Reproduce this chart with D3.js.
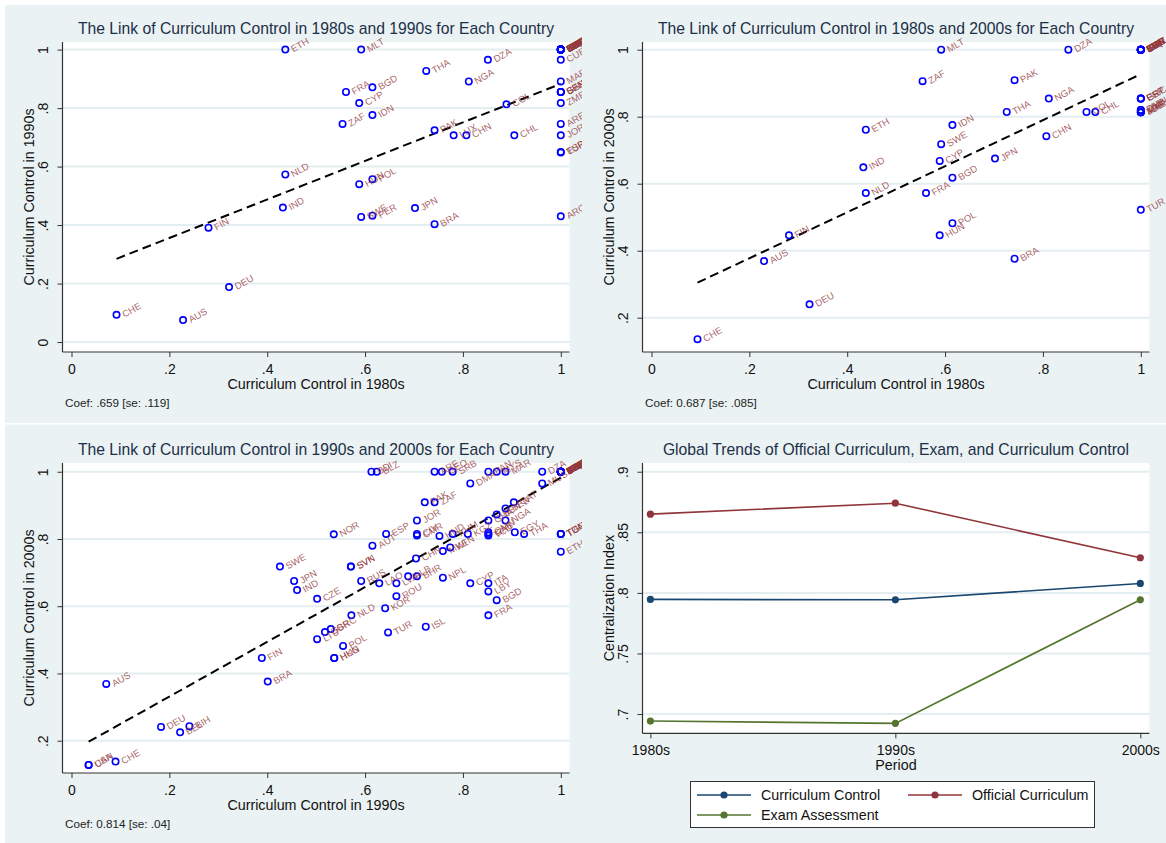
<!DOCTYPE html>
<html>
<head>
<meta charset="utf-8">
<script src="https://cdn.jsdelivr.net/npm/d3@7"></script>
<style>
  body { margin: 0; background: #fff; }
  svg { display: block; font-family: "Liberation Sans", Arial, sans-serif; }
</style>
</head>
<body>
<svg id="chart" width="1166" height="843"></svg>
<script>
// ---- data ----
// [country, curriculum control in 1980s, in 1990s]
const link8090 = [
  ["ETH", .437, 1], ["MLT", .592, 1], ["DZA", .851, .965], ["THA", .725, .927],
  ["NGA", .812, .891], ["FRA", .561, .855], ["BGD", .615, .871], ["CYP", .588, .817],
  ["ZAF", .554, .746], ["IDN", .615, .776], ["COL", .889, .813], ["PAK", .742, .724],
  ["LUX", .781, .707], ["CHN", .807, .707], ["CHL", .905, .707], ["NLD", .437, .573],
  ["HUN", .588, .540], ["POL", .615, .557], ["IND", .432, .460], ["SWE", .592, .428],
  ["PER", .615, .432], ["JPN", .702, .458], ["BRA", .742, .403], ["FIN", .280, .391],
  ["DEU", .322, .188], ["CHE", .092, .093], ["AUS", .228, .075],
  ["BHR", 1, 1], ["EGY", 1, 1], ["IRN", 1, 1], ["IRQ", 1, 1], ["KWT", 1, 1], ["LBY", 1, 1],
  ["OMN", 1, 1], ["SYR", 1, 1], ["TUN", 1, 1], ["GRC", 1, 1], ["PRT", 1, 1], ["KOR", 1, 1],
  ["ISR", 1, 1], ["SAU", 1, 1],
  ["CUB", 1, .965], ["MAR", 1, .891], ["BEN", 1, .855], ["SEN", 1, .855], ["GAB", 1, .855],
  ["ZMB", 1, .817], ["ARE", 1, .746], ["JOR", 1, .707], ["ESP", 1, .65], ["TUR", 1, .648],
  ["ARG", 1, .43]
];
const fit8090 = [0.224, 0.659]; // intercept, slope
const coef8090 = "Coef: .659 [se: .119]";

// [country, curriculum control in 1980s, in 2000s]
const link8000 = [
  ["MLT", .592, 1], ["DZA", .852, 1], ["ZAF", .554, .906], ["PAK", .742, .909],
  ["NGA", .812, .854], ["THA", .726, .814], ["COL", .889, .814], ["CHL", .907, .814],
  ["ETH", .438, .761], ["IDN", .615, .775], ["SWE", .592, .718], ["CHN", .807, .742],
  ["IND", .433, .649], ["CYP", .589, .668], ["JPN", .702, .675], ["BGD", .615, .618],
  ["NLD", .438, .572], ["FRA", .561, .572], ["POL", .615, .482], ["HUN", .589, .446],
  ["FIN", .281, .446], ["AUS", .230, .369], ["BRA", .742, .376], ["DEU", .323, .240],
  ["CHE", .094, .136], ["TUR", 1, .522],
  ["BHR", 1, 1], ["CUB", 1, 1], ["EGY", 1, 1], ["IRN", 1, 1], ["IRQ", 1, 1], ["KWT", 1, 1],
  ["LBY", 1, 1], ["SYR", 1, 1], ["TUN", 1, 1], ["KOR", 1, 1], ["ISR", 1, 1], ["SAU", 1, 1],
  ["GRC", 1, .854], ["PRT", 1, .854], ["ESP", 1, .854],
  ["OMN", 1, .82], ["ZMB", 1, .82], ["MAR", 1, .813], ["JOR", 1, .813], ["ARE", 1, .813]
];
const fit8000 = [0.240, 0.687];
const coef8000 = "Coef: 0.687 [se: .085]";

// [country, curriculum control in 1990s, in 2000s]
const link9000 = [
  ["BDI", .613, 1], ["BLZ", .624, 1], ["ARE", .742, 1], ["GEO", .757, 1], ["SRB", .779, 1],
  ["PAN", .852, 1], ["MYS", .869, 1], ["MAR", .887, 1], ["DZA", .962, 1],
  ["CUB", 1, 1], ["EGY", 1, 1], ["IRN", 1, 1], ["IRQ", 1, 1], ["KWT", 1, 1], ["SYR", 1, 1],
  ["SAU", 1, 1], ["YEM", 1, 1], ["VNM", 1, 1], ["PRK", 1, 1], ["ARM", 1, 1], ["AZE", 1, 1],
  ["BLR", 1, 1], ["UZB", 1, 1], ["KAZ", 1, 1], ["MNG", 1, 1], ["UKR", 1, 1],
  ["DMA", .815, .965], ["MUS", .962, .965],
  ["PAK", .722, .909], ["ZAF", .742, .909], ["QAT", .904, .909],
  ["BEN", .887, .891], ["SEN", .869, .873],
  ["JOR", .706, .855], ["GHA", .852, .855], ["NGA", .887, .855],
  ["NOR", .536, .814], ["ESP", .643, .815], ["CIV", .706, .815], ["CMR", .706, .81],
  ["HND", .752, .809], ["KHM", .779, .815], ["KGZ", .810, .815],
  ["OMN", .852, .82], ["GAB", .852, .815], ["TCD", .852, .81],
  ["EGY", .906, .82], ["THA", .925, .815],
  ["TUN", 1, .815], ["TGO", 1, .815], ["TZA", 1, .815], ["ETH", 1, .762],
  ["AUT", .615, .78], ["SWE", .426, .718], ["SVK", .571, .718], ["SVN", .571, .718],
  ["CHN", .704, .742], ["MWI", .759, .764], ["KEN", .774, .775],
  ["JPN", .455, .675], ["IND", .461, .648], ["CZE", .502, .622], ["RUS", .592, .675],
  ["LAO", .629, .668], ["LVA", .664, .668], ["ALB", .688, .689], ["BHR", .706, .689],
  ["NPL", .759, .685], ["CYP", .815, .668], ["ITA", .852, .668], ["LBY", .852, .644],
  ["BGD", .869, .618], ["ROU", .664, .630], ["KOR", .641, .594], ["FRA", .852, .573],
  ["NLD", .572, .573], ["TUR", .647, .522], ["ISL", .724, .539],
  ["GRC", .530, .532], ["GBR", .518, .523], ["LTU", .502, .502], ["POL", .555, .482],
  ["HUN", .537, .446], ["HKG", .537, .446], ["FIN", .389, .446], ["BRA", .401, .376],
  ["AUS", .071, .369], ["DEU", .183, .241], ["BEL", .222, .225], ["BIH", .241, .243],
  ["CAN", .035, .128], ["USA", .035, .128], ["CHE", .090, .138]
];
const fit9000 = [0.1685, 0.814];
const coef9000 = "Coef: 0.814 [se: .04]";

// global trends
const periods = ["1980s", "1990s", "2000s"];
const curriculumControl = [.7946, .7943, .8078];
const officialCurriculum = [.865, .874, .829];
const examAssessment = [.6942, .6923, .7943];

const xTicks = [0, .2, .4, .6, .8, 1];
const yTicks8090 = [0, .2, .4, .6, .8, 1];
const yTicks8000 = [.2, .4, .6, .8, 1];
const yTicks9000 = [.2, .4, .6, .8, 1];
const yTicksTrend = [.7, .75, .8, .85, .9];

// ---- drawing ----
const W = 1166, H = 843;
const BG = "#eaf2f3", GRID = "#e4edf0";
const svg = d3.select("#chart");
const defs = svg.append("defs");

svg.append("rect").attr("width", W).attr("height", H).attr("fill", BG);
svg.append("rect").attr("width", 5).attr("height", H).attr("fill", "#fff");
svg.append("rect").attr("width", W).attr("height", 5).attr("fill", "#fff");
svg.append("rect").attr("x", 5).attr("y", 423).attr("width", W - 5).attr("height", 1.6).attr("fill", "#fff");

// Stata-like tick labels: ".2" instead of "0.2"
const fmt = d => { const s = String(d); return s.startsWith("0.") ? s.slice(1) : s; };

function panel(ox, oy, clip) {
  const id = "clip" + ox + "_" + oy;
  defs.append("clipPath").attr("id", id).append("rect")
    .attr("x", clip[0]).attr("y", clip[1]).attr("width", clip[2]).attr("height", clip[3]);
  const outer = svg.append("g").attr("transform", `translate(${ox},${oy})`);
  return outer.append("g").attr("clip-path", `url(#${id})`);
}

function axes(g, x, y, box, yTicks, xAxisFn) {
  // grid
  g.append("g").selectAll("line").data(yTicks).join("line")
    .attr("x1", box.l).attr("x2", box.r)
    .attr("y1", d => y(d)).attr("y2", d => y(d))
    .attr("stroke", GRID).attr("stroke-width", 2);

  const ya = g.append("g").attr("transform", `translate(${box.l},0)`)
    .call(d3.axisLeft(y).tickValues(yTicks).tickFormat(fmt).tickSize(5));
  ya.attr("font-family", null).attr("font-size", null);
  ya.select(".domain").remove();
  ya.selectAll(".tick line").attr("stroke", "#333");
  ya.selectAll(".tick text")
    .attr("x", null).attr("dy", null)
    .attr("transform", "translate(-15,0) rotate(-90)")
    .attr("text-anchor", "middle")
    .attr("font-size", 14).attr("fill", "#111");

  const xa = g.append("g").attr("transform", `translate(0,${box.b})`)
    .call(xAxisFn);
  xa.attr("font-family", null).attr("font-size", null);
  xa.select(".domain").remove();
  xa.selectAll(".tick line").attr("stroke", "#333");
  xa.selectAll(".tick text").attr("font-size", 14).attr("fill", "#111");

  g.append("line").attr("x1", box.l).attr("x2", box.l).attr("y1", box.t).attr("y2", box.b)
    .attr("stroke", "#333").attr("stroke-width", 1.2);
  g.append("line").attr("x1", box.l).attr("x2", box.r).attr("y1", box.b).attr("y2", box.b)
    .attr("stroke", "#333").attr("stroke-width", 1.2);
}

function titles(g, box, title, xTitle, yTitle) {
  const cx = (box.l + box.r) / 2;
  g.append("text").attr("x", cx).attr("y", 33.5).attr("text-anchor", "middle")
    .attr("font-size", 15.7).attr("fill", "#1c2f48").text(title);
  g.append("text").attr("x", cx).attr("y", box.b + 36.5).attr("text-anchor", "middle")
    .attr("font-size", 14.3).attr("fill", "#111").text(xTitle);
  g.append("text")
    .attr("transform", `translate(34,${(box.t + box.b) / 2}) rotate(-90)`)
    .attr("text-anchor", "middle").attr("font-size", 14.3).attr("fill", "#111").text(yTitle);
}

function scatterPanel(ox, oy, clip, cfg) {
  const g = panel(ox, oy, clip);
  const box = { l: 62.5, r: 569.5, t: 42, b: 352 };
  g.append("rect").attr("x", box.l).attr("y", box.t)
    .attr("width", box.r - box.l).attr("height", box.b - box.t).attr("fill", "#fff");

  const x = d3.scaleLinear().domain([-0.0184, 1.0178]).range([box.l, box.r]);
  const y = d3.scaleLinear().domain(cfg.yDomain).range([box.b, box.t]);

  axes(g, x, y, box, cfg.yTicks,
    d3.axisBottom(x).tickValues(xTicks).tickFormat(fmt).tickSize(5).tickPadding(7));

  // fitted line
  const xs = d3.extent(cfg.data, d => d[1]);
  g.append("path")
    .datum(xs.map(v => [v, cfg.fit[0] + cfg.fit[1] * v]))
    .attr("d", d3.line().x(d => x(d[0])).y(d => y(d[1])))
    .attr("fill", "none").attr("stroke", "#000").attr("stroke-width", 2)
    .attr("stroke-dasharray", "9,5");

  // markers
  g.append("g").selectAll("circle").data(cfg.data).join("circle")
    .attr("cx", d => x(d[1])).attr("cy", d => y(d[2])).attr("r", 3.2)
    .attr("fill", "none").attr("stroke", "#0000ff").attr("stroke-width", 1.6);

  // labels, slanted
  g.append("g").selectAll("text").data(cfg.data).join("text")
    .attr("transform", d => `translate(${x(d[1]) + 8},${y(d[2]) + 3}) rotate(-30)`)
    .attr("font-size", 9.5).attr("fill", "#93383d").attr("fill-opacity", 0.8)
    .text(d => d[0]);

  titles(g, box, cfg.title, cfg.xTitle, cfg.yTitle);
  g.append("text").attr("x", 65).attr("y", box.b + 55).attr("font-size", 11.7)
    .attr("fill", "#222").text(cfg.coef);
}

scatterPanel(0, 0, [5, 5, 577, 418], {
  data: link8090, fit: fit8090, coef: coef8090,
  yDomain: [-0.034, 1.026], yTicks: yTicks8090,
  title: "The Link of Curriculum Control in 1980s and 1990s for Each Country",
  xTitle: "Curriculum Control in 1980s", yTitle: "Curriculum Control in 1990s"
});
scatterPanel(580, 0, [0, 5, 586, 418], {
  data: link8000, fit: fit8000, coef: coef8000,
  yDomain: [0.0976, 1.023], yTicks: yTicks8000,
  title: "The Link of Curriculum Control in 1980s and 2000s for Each Country",
  xTitle: "Curriculum Control in 1980s", yTitle: "Curriculum Control in 2000s"
});
scatterPanel(0, 421, [5, 4, 577, 418], {
  data: link9000, fit: fit9000, coef: coef9000,
  yDomain: [0.104, 1.026], yTicks: yTicks9000,
  title: "The Link of Curriculum Control in 1990s and 2000s for Each Country",
  xTitle: "Curriculum Control in 1990s", yTitle: "Curriculum Control in 2000s"
});

// ---- trends panel ----
(function () {
  const g = panel(580, 421, [0, 4, 586, 418]);
  const box = { l: 62.5, r: 569.5, t: 42, b: 312.3 };
  g.append("rect").attr("x", box.l).attr("y", box.t)
    .attr("width", box.r - box.l).attr("height", box.b - box.t).attr("fill", "#fff");

  const x = d3.scalePoint().domain(periods).range([70.4, 560.3]);
  const y = d3.scaleLinear().domain([0.6841, 0.9072]).range([box.b, box.t]);

  axes(g, x, y, box, yTicksTrend,
    d3.axisBottom(x).tickSize(5).tickPadding(7));

  const series = [
    { name: "Curriculum Control", values: curriculumControl, color: "#1a476f" },
    { name: "Official Curriculum", values: officialCurriculum, color: "#90353b" },
    { name: "Exam Assessment", values: examAssessment, color: "#55752f" }
  ];
  const line = d3.line().x((d, i) => x(periods[i])).y(d => y(d));
  series.forEach(s => {
    g.append("path").datum(s.values).attr("d", line)
      .attr("fill", "none").attr("stroke", s.color).attr("stroke-width", 1.6);
    g.append("g").selectAll("circle").data(s.values).join("circle")
      .attr("cx", (d, i) => x(periods[i])).attr("cy", d => y(d)).attr("r", 3.6)
      .attr("fill", s.color);
  });

  titles(g, box, "Global Trends of Official Curriculum, Exam, and Curriculum Control",
    "Period", "Centralization Index");

  // legend
  const lg = g.append("g");
  lg.append("rect").attr("x", 110.5).attr("y", 360.5).attr("width", 404).attr("height", 46)
    .attr("fill", "#fff").attr("stroke", "#333").attr("stroke-width", 1);
  const pos = [[117, 374], [328, 374], [117, 394]];
  series.forEach((s, i) => {
    const [lx, ly] = pos[i];
    lg.append("line").attr("x1", lx).attr("x2", lx + 54).attr("y1", ly).attr("y2", ly)
      .attr("stroke", s.color).attr("stroke-width", 1.6);
    lg.append("circle").attr("cx", lx + 27).attr("cy", ly).attr("r", 3.6).attr("fill", s.color);
    lg.append("text").attr("x", lx + 64).attr("y", ly + 5).attr("font-size", 14.3)
      .attr("fill", "#111").text(s.name);
  });
})();
</script>
</body>
</html>
